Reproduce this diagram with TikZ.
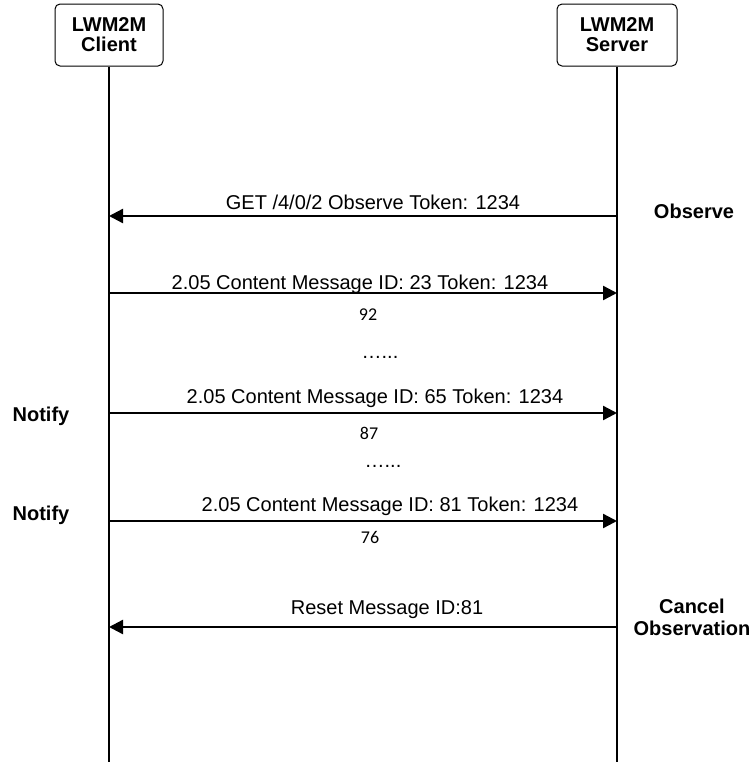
\documentclass[tikz,border=0pt]{standalone}
\usepackage{fontspec}
\setmainfont{Liberation Sans}
\newfontfamily\numfont{Carlito}
\usetikzlibrary{arrows.meta,calc}
\tikzset{
  party/.style={
    draw,
    rounded corners=5pt,
    line width=1pt,
    minimum height=62pt,
    inner sep=0pt,
    align=center,
    font=\bfseries\fontsize{20}{20}\selectfont},
  life/.style={line width=1.3pt},
  msg/.style={
    -{Triangle[length=14pt,width=14pt]},
    line width=2.4pt},
  lbl/.style={inner sep=0pt, font=\fontsize{20}{22}\selectfont},
  side/.style={inner sep=0pt, align=center, font=\bfseries\fontsize{20}{22}\selectfont},
  num/.style={inner sep=0pt, font=\numfont\fontsize{18}{20}\selectfont}
}
\begin{document}
\begin{tikzpicture}[x=1pt,y=-1pt]
    \useasboundingbox (0,0) rectangle (753,764);
    \node[party, minimum width=108pt] (client) at (109,35) {LWM2M\\Client};
    \node[party, minimum width=120pt] (server) at (617,35) {LWM2M\\Server};
    \coordinate (cbot) at (client.south |- 0,762);
    \coordinate (sbot) at (server.south |- 0,762);
    \draw [life]
      (client) -- (cbot)
      (server) -- (sbot);
    % points on the lifelines
    \foreach \n/\y in {get/216, m23/293, m65/413, m81/521, rst/627} {
      \coordinate (c\n) at (client.south |- 0,\y);
      \coordinate (s\n) at (server.south |- 0,\y);
    }
    \draw
      (sget) edge[msg] (cget)
      (cm23) edge[msg] (sm23)
      (cm65) edge[msg] (sm65)
      (cm81) edge[msg] (sm81)
      (srst) edge[msg] (crst);
    \node[lbl] (tget) at (373,202) {GET /4/0/2 Observe Token: 1234};
    \node[lbl] (tm23) at (360,284) {2.05 Content Message ID: 23 Token: 1234};
    \node[num] (n92) at (368,315) {92};
    \node[lbl] (dots1) at (380,357) {…...};
    \node[lbl] (tm65) at (375,398) {2.05 Content Message ID: 65 Token: 1234};
    \node[num] (n87) at (369,433) {87};
    \node[lbl] (dots2) at (383,466) {…...};
    \node[lbl] (tm81) at (390,506) {2.05 Content Message ID: 81 Token: 1234};
    \node[num] (n76) at (370,537) {76};
    \node[lbl] (trst) at (387,610) {Reset Message ID:81};
    \node[side] (observe) at (694,211) {Observe};
    \node[side] (notify1) at (41,416) {Notify};
    \node[side] (notify2) at (41,515) {Notify};
    \node[side] (cancel) at (692,617) {Cancel\\Observation};
\end{tikzpicture}
\end{document}
